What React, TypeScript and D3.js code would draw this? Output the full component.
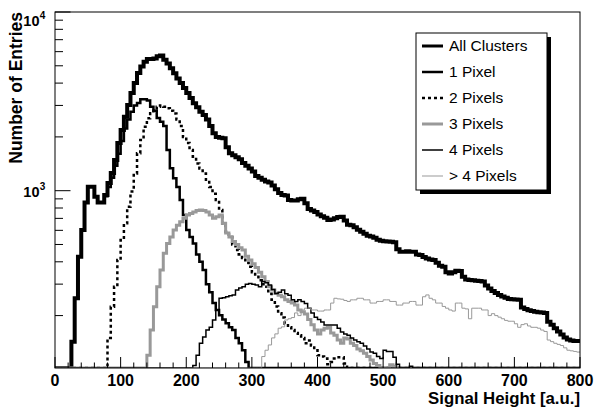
import React from "react";
import * as d3 from "d3";

// ---- histogram binning (Signal Height, a.u.) ----
const xLow = 0;
const xHigh = 800;
const nBins = 160;

// ---- axis ticks ----
const xMajorTicks = [0, 100, 200, 300, 400, 500, 600, 700, 800];
const yMajorTicks = [1000, 10000];
const yMajorExp = ["3", "4"];

// ---- series (bin contents, first bin index + values) ----
const allClustersFirst = 5;
const allClusters = [
  143, 250, 427, 603, 860,
  1052, 1052, 925, 860, 860,
  946, 1105, 1256, 1485, 1850,
  2186, 2596, 3020, 3516, 4000,
  4560, 4950, 5270, 5450, 5450,
  5500, 5650, 5700, 5400, 5150,
  4850, 4540, 4250, 4000, 3750,
  3520, 3300, 3090, 2930, 2770,
  2650, 2500, 2300, 2095, 2000,
  1980, 1965, 1750, 1618, 1580,
  1540, 1500, 1430, 1380, 1330,
  1280, 1210, 1180, 1150, 1125,
  1110, 1070, 1020, 970, 946,
  940, 887, 880, 880, 895,
  900, 850, 790, 775, 760,
  735, 720, 705, 686, 690,
  700, 712, 715, 680, 645,
  640, 625, 605, 590, 575,
  560, 555, 545, 532, 525,
  522, 520, 518, 515, 470,
  456, 456, 458, 455, 455,
  440, 437, 425, 418, 412,
  410, 395, 380, 375, 350,
  344, 350, 356, 355, 330,
  318, 316, 315, 313, 312,
  310, 295, 284, 275, 268,
  261, 256, 252, 248, 247,
  246, 245, 222, 218, 214,
  212, 210, 209, 208, 207,
  185, 178, 170, 163, 157,
  151, 147, 145, 144, 144,
];

const onePixelFirst = 5;
const onePixel = [
  143, 250, 427, 603, 860,
  1052, 1052, 925, 860, 860,
  930, 1050, 1180, 1380, 1610,
  1900, 2230, 2500, 2770, 3000,
  3100, 3250, 3250, 3200, 2950,
  2800, 2550, 2430, 2300, 1690,
  1335, 1173, 1050, 887, 730,
  603, 550, 506, 440, 400,
  360, 300, 270, 235, 215,
  201, 190, 181, 172, 166,
  150, 140, 128, 110,
];

const twoPixelsFirst = 16;
const twoPixels = [
  150, 224, 290, 410,
  530, 657, 813, 990, 1250,
  1620, 1920, 2280, 2540, 2710,
  2800, 2950, 3000, 2950, 2890,
  2800, 2700, 2500, 2300, 2000,
  1850, 1690, 1550, 1420, 1330,
  1250, 1120, 1050, 960, 887,
  780, 657, 590, 550, 500,
  466, 440, 420, 395, 375,
  350, 330, 315, 300, 290,
  265, 245, 225, 206, 195,
  180, 172, 166, 160, 155,
  150, 140, 145, 136, 128,
  120, 118, 115, 107, 110,
  115, 117, 117, 108,
];

const threePixelsFirst = 28;
const threePixels = [
  120, 166, 224, 290, 360,
  446, 506, 550, 603, 640,
  670, 700, 730, 745, 760,
  775, 780, 775, 760, 730,
  700, 715, 730, 657, 580,
  550, 520, 500, 480, 466,
  430, 410, 390, 372, 350,
  330, 310, 290, 278, 266,
  260, 255, 245, 240, 235,
  229, 215, 210, 204, 190,
  178, 166, 158, 166, 170,
  172, 160, 155, 146, 140,
  150, 148, 140, 136, 130,
  127, 123, 118, 113, 108,
  105, 0, 0, 0, 106, 104,
];

const fourPixelsFirst = 42;
const fourPixels = [
  105, 120, 140, 152, 166,
  172, 189, 215, 250, 252,
  255, 258, 261, 278, 285,
  290, 300, 302, 300, 297,
  290, 310, 305, 297, 280,
  266, 270, 278, 265, 260,
  245, 240, 245, 240, 234,
  220, 207, 196, 190, 184,
  177, 177, 177, 177, 170,
  162, 158, 155, 150, 146,
  143, 140, 135, 130, 125,
  123, 118, 115, 128, 126,
  126, 117, 107, 0, 0, 0, 104,
];

const morePixelsFirst = 63;
const morePixels = [
  118, 128, 137, 150, 158,
  170, 173, 189, 192, 195,
  207, 200, 215, 220, 220,
  215, 215, 212, 212, 215,
  215, 235, 250,
  248, 247, 243, 240, 245,
  245, 250, 250, 245, 245,
  235, 235, 240, 240, 245,
  245, 240, 240, 229, 229,
  235, 235, 240, 240, 229,
  229, 255, 261, 250, 245,
  235, 235, 225, 220, 215,
  212, 235, 235, 220, 218,
  192, 220, 220, 220, 215,
  215, 200, 205, 200, 196,
  192, 188, 186, 186, 180,
  172, 178, 180, 175, 172,
  172, 170, 166, 163, 146,
  143, 140, 138, 136, 132,
  128, 127, 126, 125,
];

const seriesNames = ["All Clusters", "1 Pixel", "2 Pixels", "3 Pixels", "4 Pixels", "> 4 Pixels"];

// ---- layout / styles ----
const W = 594;
const H = 414;
const frame = { left: 55, right: 580, top: 12, bottom: 368 };
const yMin = 101.8;
const yMax = 10000;
const FONT = "'Liberation Sans', Arial, Helvetica, sans-serif";

const styles = [
  { stroke: "#000", width: 4, dash: "none" },
  { stroke: "#000", width: 2.5, dash: "none" },
  { stroke: "#000", width: 2.5, dash: "3,3" },
  { stroke: "#999", width: 3, dash: "none" },
  { stroke: "#000", width: 1.5, dash: "none" },
  { stroke: "#999", width: 1, dash: "none" },
];

const fromBin = (first: number, vals: number[]) =>
  d3.range(nBins).map((i) => (i >= first && i - first < vals.length ? vals[i - first] : 0));

export default function App() {
  const x = d3.scaleLinear().domain([xLow, xHigh]).range([frame.left, frame.right]);
  const y = d3.scaleLog().domain([yMin, yMax]).range([frame.bottom, frame.top]);
  const bw = (xHigh - xLow) / nBins;

  const series = [
    fromBin(allClustersFirst, allClusters),
    fromBin(onePixelFirst, onePixel),
    fromBin(twoPixelsFirst, twoPixels),
    fromBin(threePixelsFirst, threePixels),
    fromBin(fourPixelsFirst, fourPixels),
    fromBin(morePixelsFirst, morePixels),
  ];

  const line = d3
    .line<[number, number]>()
    .x((d) => x(d[0]))
    .y((d) => y(Math.max(d[1], yMin)))
    .curve(d3.curveStepAfter);

  const pathFor = (vals: number[]) => {
    const pts: [number, number][] = vals.map((v, i) => [xLow + i * bw, v]);
    pts.push([xHigh, vals[vals.length - 1]]);
    return line(pts) || "";
  };

  const xMinor = d3.range(xLow, xHigh + 1, 20).filter((v) => v % 100 !== 0);
  const yMinor: number[] = [];
  [100, 1000].forEach((dec) => {
    for (let k = 2; k <= 9; k++) {
      const v = dec * k;
      if (v >= yMin && v <= yMax) yMinor.push(v);
    }
  });

  const legend = { x: 416, y: 33, w: 131, h: 157 };
  const legendRow0 = 46;
  const legendStep = 26;

  return (
    <svg width={W} height={H} style={{ display: "block", position: "absolute", left: 0, top: 0 }} fontFamily={FONT}>
      <rect x={0} y={0} width={W} height={H} fill="#fff" />
      <defs>
        <clipPath id="frameClip">
          <rect x={frame.left} y={frame.top - 2} width={frame.right - frame.left} height={frame.bottom - frame.top + 2} />
        </clipPath>
      </defs>

      {/* histograms */}
      <g clipPath="url(#frameClip)">
        {series.map((vals, i) => (
          <path
            key={i}
            d={pathFor(vals)}
            fill="none"
            stroke={styles[i].stroke}
            strokeWidth={styles[i].width}
            strokeDasharray={styles[i].dash}
            strokeLinejoin="miter"
          />
        ))}
      </g>

      {/* frame */}
      <rect
        x={frame.left}
        y={frame.top}
        width={frame.right - frame.left}
        height={frame.bottom - frame.top}
        fill="none"
        stroke="#000"
        strokeWidth={1}
      />

      {/* x ticks */}
      {xMajorTicks.map((v) => (
        <line key={"xM" + v} x1={x(v)} x2={x(v)} y1={frame.bottom} y2={frame.bottom - 11} stroke="#000" strokeWidth={1} />
      ))}
      {xMinor.map((v) => (
        <line key={"xm" + v} x1={x(v)} x2={x(v)} y1={frame.bottom} y2={frame.bottom - 5.5} stroke="#000" strokeWidth={1} />
      ))}
      {xMajorTicks.map((v) => (
        <text key={"xl" + v} x={x(v)} y={386} textAnchor="middle" fontSize={16} fontWeight="bold" fill="#000">
          {v}
        </text>
      ))}

      {/* y ticks */}
      {yMajorTicks.map((v) => (
        <line key={"yM" + v} x1={frame.left} x2={frame.left + 15.5} y1={y(v)} y2={y(v)} stroke="#000" strokeWidth={1} />
      ))}
      {yMinor.map((v) => (
        <line key={"ym" + v} x1={frame.left} x2={frame.left + 8} y1={y(v)} y2={y(v)} stroke="#000" strokeWidth={1} />
      ))}
      {yMajorTicks.map((v, i) => {
        const base = v === yMax ? 26 : y(v) + 6.8;
        return (
          <g key={"yl" + v}>
            <text x={39.5} y={base} textAnchor="end" fontSize={14.5} fontWeight="bold" fill="#000">
              10
            </text>
            <text x={39.8} y={base - 7.5} textAnchor="start" fontSize={10} fontWeight="bold" fill="#000">
              {yMajorExp[i]}
            </text>
          </g>
        );
      })}

      {/* axis titles */}
      <text x={580} y={404} textAnchor="end" fontSize={16.8} fontWeight="bold" fill="#000">
        Signal Height [a.u.]
      </text>
      <text
        transform={`translate(21.5,12) rotate(-90)`}
        textAnchor="end"
        fontSize={17.5}
        fontWeight="bold"
        fill="#000"
      >
        Number of Entries
      </text>

      {/* legend */}
      <rect x={legend.x + 4} y={legend.y + 4} width={legend.w} height={legend.h} fill="#000" />
      <rect x={legend.x} y={legend.y} width={legend.w} height={legend.h} fill="#fff" stroke="#000" strokeWidth={1} />
      {seriesNames.map((name, i) => {
        const cy = legendRow0 + i * legendStep;
        return (
          <g key={name}>
            <line
              x1={422}
              x2={443}
              y1={cy}
              y2={cy}
              stroke={styles[i].stroke}
              strokeWidth={Math.min(styles[i].width, 3)}
              strokeDasharray={styles[i].dash}
            />
            <text x={449} y={cy + 5.3} fontSize={15.5} fill="#000">
              {name}
            </text>
          </g>
        );
      })}
    </svg>
  );
}
